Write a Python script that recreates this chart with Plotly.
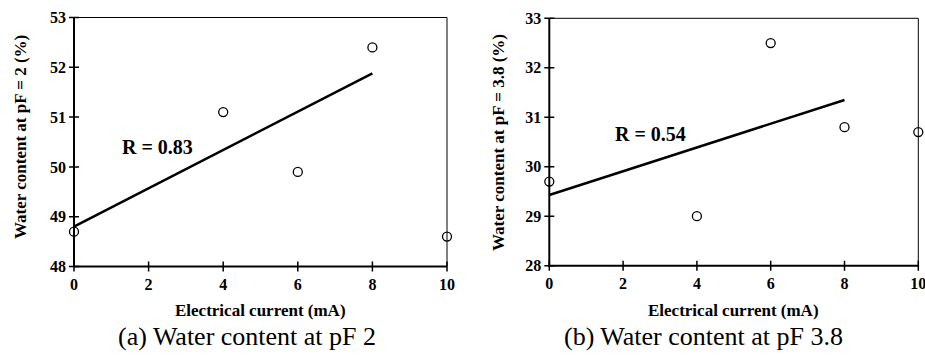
import plotly.graph_objects as go

# ---- data -------------------------------------------------------------
current_a = [0, 4, 6, 8, 10]
water_pf2 = [48.7, 51.1, 49.9, 52.4, 48.6]
trend_a_x = [0, 8]
trend_a_y = [48.8, 51.88]
r_label_a = "R = 0.83"

current_b = [0, 4, 6, 8, 10]
water_pf38 = [29.7, 29.0, 32.5, 30.8, 30.7]
trend_b_x = [0, 8]
trend_b_y = [29.43, 31.35]
r_label_b = "R = 0.54"

x_range = [0, 10]
y_range_a = [48, 53]
y_range_b = [28, 33]
x_ticks = [0, 2, 4, 6, 8, 10]
y_ticks_a = [48, 49, 50, 51, 52, 53]
y_ticks_b = [28, 29, 30, 31, 32, 33]

x_title = "Electrical current (mA)"
y_title_a = "Water content at pF = 2 (%)"
y_title_b = "Water content at pF = 3.8 (%)"
caption_a = "(a) Water content at pF 2"
caption_b = "(b) Water content at pF 3.8"

# ---- layout helpers -----------------------------------------------------
W, H = 925, 358
FONT = "Liberation Serif"
PAD = 6          # px of room kept round the frame so it is not clipped
TICK = 5         # px half length of the crossing tick marks


def padded_x(p0, p1, r):
    s = (p1 - p0) / (r[1] - r[0])
    pl = min(PAD, p0)
    pr = min(PAD, W - p1)
    return [(p0 - pl) / W, (p1 + pr) / W], [r[0] - pl / s, r[1] + pr / s], TICK / s


def padded_y(top, bottom, r):
    s = (bottom - top) / (r[1] - r[0])
    pt = min(PAD, top)
    pb = min(PAD, H - bottom)
    return [1 - (bottom + pb) / H, 1 - (top - pt) / H], [r[0] - pb / s, r[1] + pt / s], TICK / s


def px(x):
    return x / W


def py(y):
    return 1 - y / H


dom_xa, rng_xa, dx_a = padded_x(74, 447, x_range)
dom_ya, rng_ya, dy_a = padded_y(17.5, 266.5, y_range_a)
dom_xb, rng_xb, dx_b = padded_x(549.3, 918.3, x_range)
dom_yb, rng_yb, dy_b = padded_y(18.3, 265.7, y_range_b)

fig = go.Figure()

marker = dict(symbol="circle-open", size=9, color="black", line=dict(width=1.3, color="black"))
panels = [
    (current_a, water_pf2, trend_a_x, trend_a_y, y_ticks_a, y_range_a, dx_a, dy_a, "x", "y"),
    (current_b, water_pf38, trend_b_x, trend_b_y, y_ticks_b, y_range_b, dx_b, dy_b, "x2", "y2"),
]
for xs, ys, tx, ty, yt, yr, dx, dy, xa, ya in panels:
    x0, x1 = x_range
    y0, y1 = yr
    common = dict(xaxis=xa, yaxis=ya, showlegend=False, hoverinfo="skip", mode="lines")
    # frame: thin top/right, thick left/bottom
    fig.add_trace(go.Scatter(x=[x0, x1, x1], y=[y1, y1, y0],
                             line=dict(color="black", width=1), **common))
    fig.add_trace(go.Scatter(x=[x0, x0, x1], y=[y1, y0, y0],
                             line=dict(color="black", width=2), **common))
    # crossing tick marks
    tx_pts, ty_pts = [], []
    for t in x_ticks:
        tx_pts += [t, t, None]
        ty_pts += [y0 - dy, y0 + dy, None]
    for t in yt:
        tx_pts += [x0 - dx, x0 + dx, None]
        ty_pts += [t, t, None]
    fig.add_trace(go.Scatter(x=tx_pts, y=ty_pts, line=dict(color="black", width=1.5), **common))
    # regression line and observations
    fig.add_trace(go.Scatter(x=tx, y=ty, line=dict(color="black", width=2.5), **common))
    fig.add_trace(go.Scatter(x=xs, y=ys, mode="markers", marker=marker,
                             xaxis=xa, yaxis=ya, showlegend=False, cliponaxis=False))

tickfont = dict(family=FONT, size=16, color="black", weight="bold")

common_axis = dict(showgrid=False, zeroline=False, showline=False, automargin=False,
                   ticklabeloverflow="allow", ticks="", tickfont=tickfont, fixedrange=True)

fig.update_layout(
    template="none",
    width=W, height=H,
    margin=dict(l=0, r=0, t=0, b=0, autoexpand=False),
    paper_bgcolor="white", plot_bgcolor="white",
    xaxis=dict(domain=dom_xa, anchor="y", range=rng_xa, tickvals=x_ticks,
               ticklabelstandoff=0, **common_axis),
    yaxis=dict(domain=dom_ya, anchor="x", range=rng_ya, tickvals=y_ticks_a,
               ticklabelstandoff=1, **common_axis),
    xaxis2=dict(domain=dom_xb, anchor="y2", range=rng_xb, tickvals=x_ticks,
                ticklabelstandoff=0, **common_axis),
    yaxis2=dict(domain=dom_yb, anchor="x2", range=rng_yb, tickvals=y_ticks_b,
                ticklabelstandoff=1, **common_axis),
    showlegend=False,
)

bold = lambda s: dict(family=FONT, size=s, color="black", weight="bold")

annotations = [
    dict(text=r_label_a, x=2.25, y=50.4, xref="x", yref="y", font=bold(20)),
    dict(text=r_label_b, x=2.73, y=30.66, xref="x2", yref="y2", font=bold(20)),
    dict(text=x_title, x=px(260), y=py(310), xref="paper", yref="paper", font=bold(17)),
    dict(text=x_title, x=px(733), y=py(310), xref="paper", yref="paper", font=bold(17)),
    dict(text=y_title_a, x=px(20), y=py(137), xref="paper", yref="paper", font=bold(17), textangle=-90),
    dict(text=y_title_b, x=px(498), y=py(143), xref="paper", yref="paper", font=bold(17), textangle=-90),
    dict(text=caption_a, x=px(247), y=py(336), xref="paper", yref="paper",
         font=dict(family=FONT, size=26, color="black")),
    dict(text=caption_b, x=px(703), y=py(336), xref="paper", yref="paper",
         font=dict(family=FONT, size=26, color="black")),
]
for a in annotations:
    a.update(showarrow=False, xanchor="center", yanchor="middle")
    fig.add_annotation(**a)

fig.write_html("out.html")
